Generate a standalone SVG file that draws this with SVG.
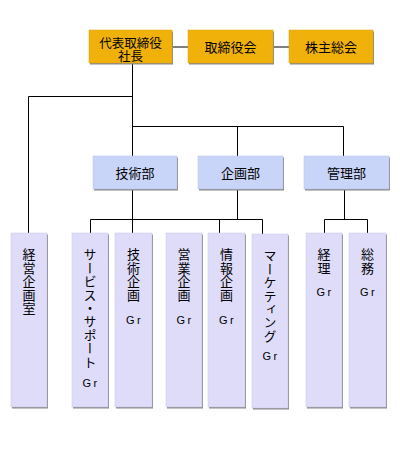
<svg xmlns="http://www.w3.org/2000/svg" width="400" height="455" viewBox="0 0 400 455">
<defs>
<style>
.sh{fill:#8a8a8a}
.top{fill:#F0B10A;stroke:#d9a30c;stroke-width:0.5}
.dep{fill:#C8D5F9;stroke:#b9c4e6;stroke-width:0.5}
.grp{fill:#DEDCF9;stroke:#c8c6e6;stroke-width:0.5}
.t{font-family:"Noto Sans CJK JP","Noto Sans",sans-serif;font-size:13px;fill:#000;text-anchor:middle;dominant-baseline:central}
.t2{font-family:"Noto Sans CJK JP","Noto Sans",sans-serif;font-size:12.5px;fill:#000;text-anchor:middle;dominant-baseline:central}
.v{font-family:"Noto Sans CJK JP","Noto Sans",sans-serif;font-size:13px;fill:#000;writing-mode:vertical-rl;text-anchor:start;letter-spacing:0.4px}
.gr{font-family:"Liberation Sans","Noto Sans",sans-serif;font-size:11px;fill:#000;text-anchor:middle;dominant-baseline:central;letter-spacing:2.5px}
.ln{fill:none;stroke:#000;stroke-width:1}
</style>
</defs>
<g id="connectors">
<path class="ln" d="M172,47H188M273,47H289"/>
<path class="ln" d="M132.5,63V156M132.5,96.5H28.5V233M132.5,126.5H343.5V156M237.5,126.5V156"/>
<path class="ln" d="M132.5,189V233M237.5,189V219.5M90.5,219.5H262.5M90.5,219.5V233M219.5,219.5V233M262.5,219.5V234"/>
<path class="ln" d="M344.5,189V219.5M324.5,219.5H367.5M324.5,219.5V233M367.5,219.5V233"/>
</g>
<g id="president">
<rect class="sh" x="90" y="31.5" width="83" height="33"/>
<rect class="top" x="89" y="30" width="83" height="33"/>
<text class="t2"><tspan x="130.5" y="41.5">代表取締役</tspan><tspan x="130.5" y="54.5">社長</tspan></text>
</g>
<g id="board">
<rect class="sh" x="189" y="31.5" width="85" height="33"/>
<rect class="top" x="188" y="30" width="85" height="33"/>
<text class="t" x="230.5" y="46.5">取締役会</text>
</g>
<g id="shareholders">
<rect class="sh" x="290" y="31.5" width="84" height="33"/>
<rect class="top" x="289" y="30" width="84" height="33"/>
<text class="t" x="331" y="46.5">株主総会</text>
</g>
<g id="gijutsubu">
<rect class="sh" x="94" y="157.5" width="84" height="33"/>
<rect class="dep" x="93" y="156" width="84" height="33"/>
<text class="t" x="135" y="172.5">技術部</text>
</g>
<g id="kikakubu">
<rect class="sh" x="199" y="157.5" width="85" height="33"/>
<rect class="dep" x="198" y="156" width="85" height="33"/>
<text class="t" x="240.5" y="172.5">企画部</text>
</g>
<g id="kanribu">
<rect class="sh" x="305" y="157.5" width="85" height="33"/>
<rect class="dep" x="304" y="156" width="85" height="33"/>
<text class="t" x="346.5" y="172.5">管理部</text>
</g>
<g id="keieikikaku">
<rect class="sh" x="12" y="234.5" width="36" height="174"/>
<rect class="grp" x="11" y="233" width="36" height="174"/>
<text class="v" x="29" y="248">経営企画室</text>
</g>
<g id="service">
<rect class="sh" x="73" y="234.5" width="36" height="174"/>
<rect class="grp" x="72" y="233" width="36" height="174"/>
<text class="v" x="90" y="248">サービス・サポート</text>
<text class="gr" x="91" y="383">Gr</text>
</g>
<g id="gijutsukikaku">
<rect class="sh" x="116" y="234.5" width="37" height="174"/>
<rect class="grp" x="115" y="233" width="37" height="174"/>
<text class="v" x="133.5" y="248">技術企画</text>
<text class="gr" x="134.5" y="320">Gr</text>
</g>
<g id="eigyokikaku">
<rect class="sh" x="167" y="234.5" width="36" height="174"/>
<rect class="grp" x="166" y="233" width="36" height="174"/>
<text class="v" x="184" y="248">営業企画</text>
<text class="gr" x="185" y="320">Gr</text>
</g>
<g id="johokikaku">
<rect class="sh" x="209" y="234.5" width="37" height="174"/>
<rect class="grp" x="208" y="233" width="37" height="174"/>
<text class="v" x="226.5" y="248">情報企画</text>
<text class="gr" x="227.5" y="320">Gr</text>
</g>
<g id="marketing">
<rect class="sh" x="253" y="235.5" width="36" height="174"/>
<rect class="grp" x="252" y="234" width="36" height="174"/>
<text class="v" x="270" y="249">マーケティング</text>
<text class="gr" x="271" y="356">Gr</text>
</g>
<g id="keiri">
<rect class="sh" x="307" y="234.5" width="36" height="174"/>
<rect class="grp" x="306" y="233" width="36" height="174"/>
<text class="v" x="324" y="248">経理</text>
<text class="gr" x="325" y="292">Gr</text>
</g>
<g id="somu">
<rect class="sh" x="350" y="234.5" width="37" height="174"/>
<rect class="grp" x="349" y="233" width="37" height="174"/>
<text class="v" x="367.5" y="248">総務</text>
<text class="gr" x="368.5" y="292">Gr</text>
</g>
</svg>
